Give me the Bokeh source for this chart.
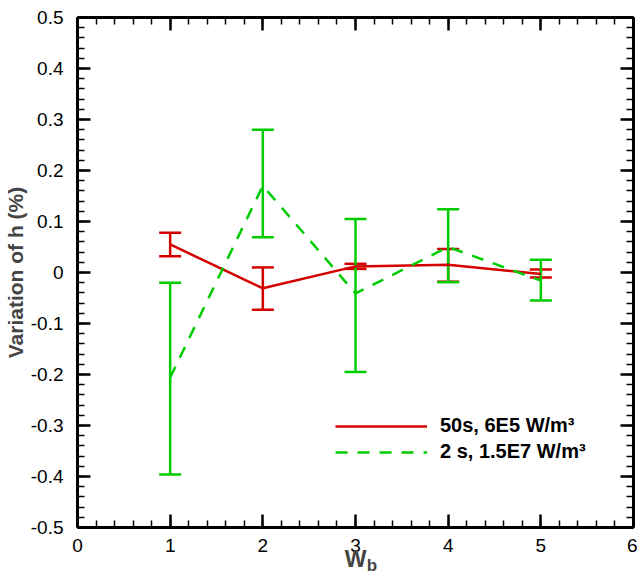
from bokeh.plotting import figure
from bokeh.models import (ColumnDataSource, Whisker, TeeHead, LinearAxis, Range1d,
                          SingleIntervalTicker, FixedTicker, CustomJSTickFormatter,
                          Legend, LegendItem)
from bokeh.embed import file_html
from bokeh.resources import INLINE

# ---- data ----
x_vals = [1, 2, 3, 4, 5]
red_y = [0.055, -0.031, 0.012, 0.015, -0.003]
red_hi = [0.078, 0.010, 0.017, 0.046, 0.006]
red_lo = [0.032, -0.073, 0.007, -0.018, -0.010]
green_y = [-0.206, 0.170, -0.041, 0.050, -0.016]
green_hi = [-0.020, 0.280, 0.105, 0.124, 0.025]
green_lo = [-0.396, 0.069, -0.195, -0.019, -0.055]
red_label = "50s, 6E5 W/m³"
green_label = "2 s, 1.5E7 W/m³"
y_title = "Variation of h (%)"
x_title = "W"
x_title_sub = "b"

RED = "#d40000"
GREEN = "#00cc00"
FONT = "Liberation Sans"

p = figure(width=637, height=577, output_backend="svg", toolbar_location=None,
           x_range=Range1d(0, 6), y_range=Range1d(-0.5, 0.5),
           min_border_left=77, min_border_right=4, min_border_top=17, min_border_bottom=50,
           x_axis_location=None, y_axis_location=None)
p.xgrid.visible = False
p.ygrid.visible = False
p.outline_line_color = None
p.background_fill_color = "white"
p.border_fill_color = "white"

fmt = CustomJSTickFormatter(code="return Number(tick.toFixed(1)).toString();")


def style_axis(ax, labels=True):
    ax.axis_line_width = 3
    ax.axis_line_color = "black"
    ax.major_tick_in = 13
    ax.major_tick_out = 0
    ax.minor_tick_in = 7
    ax.minor_tick_out = 0
    ax.major_tick_line_width = 2.5
    ax.minor_tick_line_width = 1.5
    ax.major_tick_line_color = "black"
    ax.minor_tick_line_color = "black"
    ax.formatter = fmt
    if labels:
        ax.major_label_text_font = FONT
        ax.major_label_text_font_size = "19px"
        ax.major_label_text_color = "black"
    else:
        ax.major_label_text_font_size = "0px"
        ax.major_label_standoff = 0


xt = SingleIntervalTicker(interval=1, num_minor_ticks=5)
yt = SingleIntervalTicker(interval=0.1, num_minor_ticks=5)

bottom = LinearAxis(ticker=xt, axis_label=x_title)
style_axis(bottom)
bottom.major_label_standoff = 11
bottom.axis_label_text_font = FONT
bottom.axis_label_text_font_style = "bold"
bottom.axis_label_text_font_size = "23px"
bottom.axis_label_standoff = -9

# second, tick-less axis below that only carries the subscript "b"
sub_axis = LinearAxis(ticker=FixedTicker(ticks=[]), axis_label="\u00a0" * 7 + x_title_sub)
sub_axis.axis_line_color = None
sub_axis.major_tick_line_color = None
sub_axis.minor_tick_line_color = None
sub_axis.major_tick_in = 0
sub_axis.major_tick_out = 0
sub_axis.minor_tick_in = 0
sub_axis.minor_tick_out = 0
sub_axis.major_label_text_font_size = "0px"
sub_axis.major_label_standoff = 0
sub_axis.axis_label_text_font = FONT
sub_axis.axis_label_text_font_style = "bold"
sub_axis.axis_label_text_font_size = "17px"
sub_axis.axis_label_standoff = -19

top = LinearAxis(ticker=xt)
style_axis(top, labels=False)
left = LinearAxis(ticker=yt, axis_label=y_title)
style_axis(left)
left.major_label_standoff = 14
left.axis_label_text_font = FONT
left.axis_label_text_font_style = "bold"
left.axis_label_text_font_size = "21px"
left.axis_label_standoff = 1
right = LinearAxis(ticker=yt)
style_axis(right, labels=False)

p.add_layout(bottom, "below")
p.add_layout(sub_axis, "below")
p.add_layout(left, "left")
p.add_layout(top, "above")
p.add_layout(right, "right")

src_r = ColumnDataSource(dict(x=x_vals, y=red_y, hi=red_hi, lo=red_lo))
src_g = ColumnDataSource(dict(x=x_vals, y=green_y, hi=green_hi, lo=green_lo))

r_line = p.line("x", "y", source=src_r, line_color=RED, line_width=2.5)
w_r = Whisker(base="x", upper="hi", lower="lo", source=src_r, dimension="height",
              line_color=RED, line_width=2.5,
              upper_head=TeeHead(size=22, line_color=RED, line_width=2.5),
              lower_head=TeeHead(size=22, line_color=RED, line_width=2.5))
p.add_layout(w_r)

g_line = p.line("x", "y", source=src_g, line_color=GREEN, line_width=2.5, line_dash="12 10")
w_g = Whisker(base="x", upper="hi", lower="lo", source=src_g, dimension="height",
              line_color=GREEN, line_width=2.5,
              upper_head=TeeHead(size=22, line_color=GREEN, line_width=2.5),
              lower_head=TeeHead(size=22, line_color=GREEN, line_width=2.5))
p.add_layout(w_g)

legend = Legend(items=[LegendItem(label=red_label, renderers=[r_line]),
                       LegendItem(label=green_label, renderers=[g_line])],
                location=(258, 64), padding=0, margin=0, spacing=3,
                glyph_width=92, glyph_height=20, label_standoff=13,
                label_text_font=FONT, label_text_font_style="bold",
                label_text_font_size="20px", label_text_color="black",
                border_line_color=None, background_fill_alpha=0)
p.add_layout(legend, "center")

open("out.html", "w").write(file_html(p, INLINE))
